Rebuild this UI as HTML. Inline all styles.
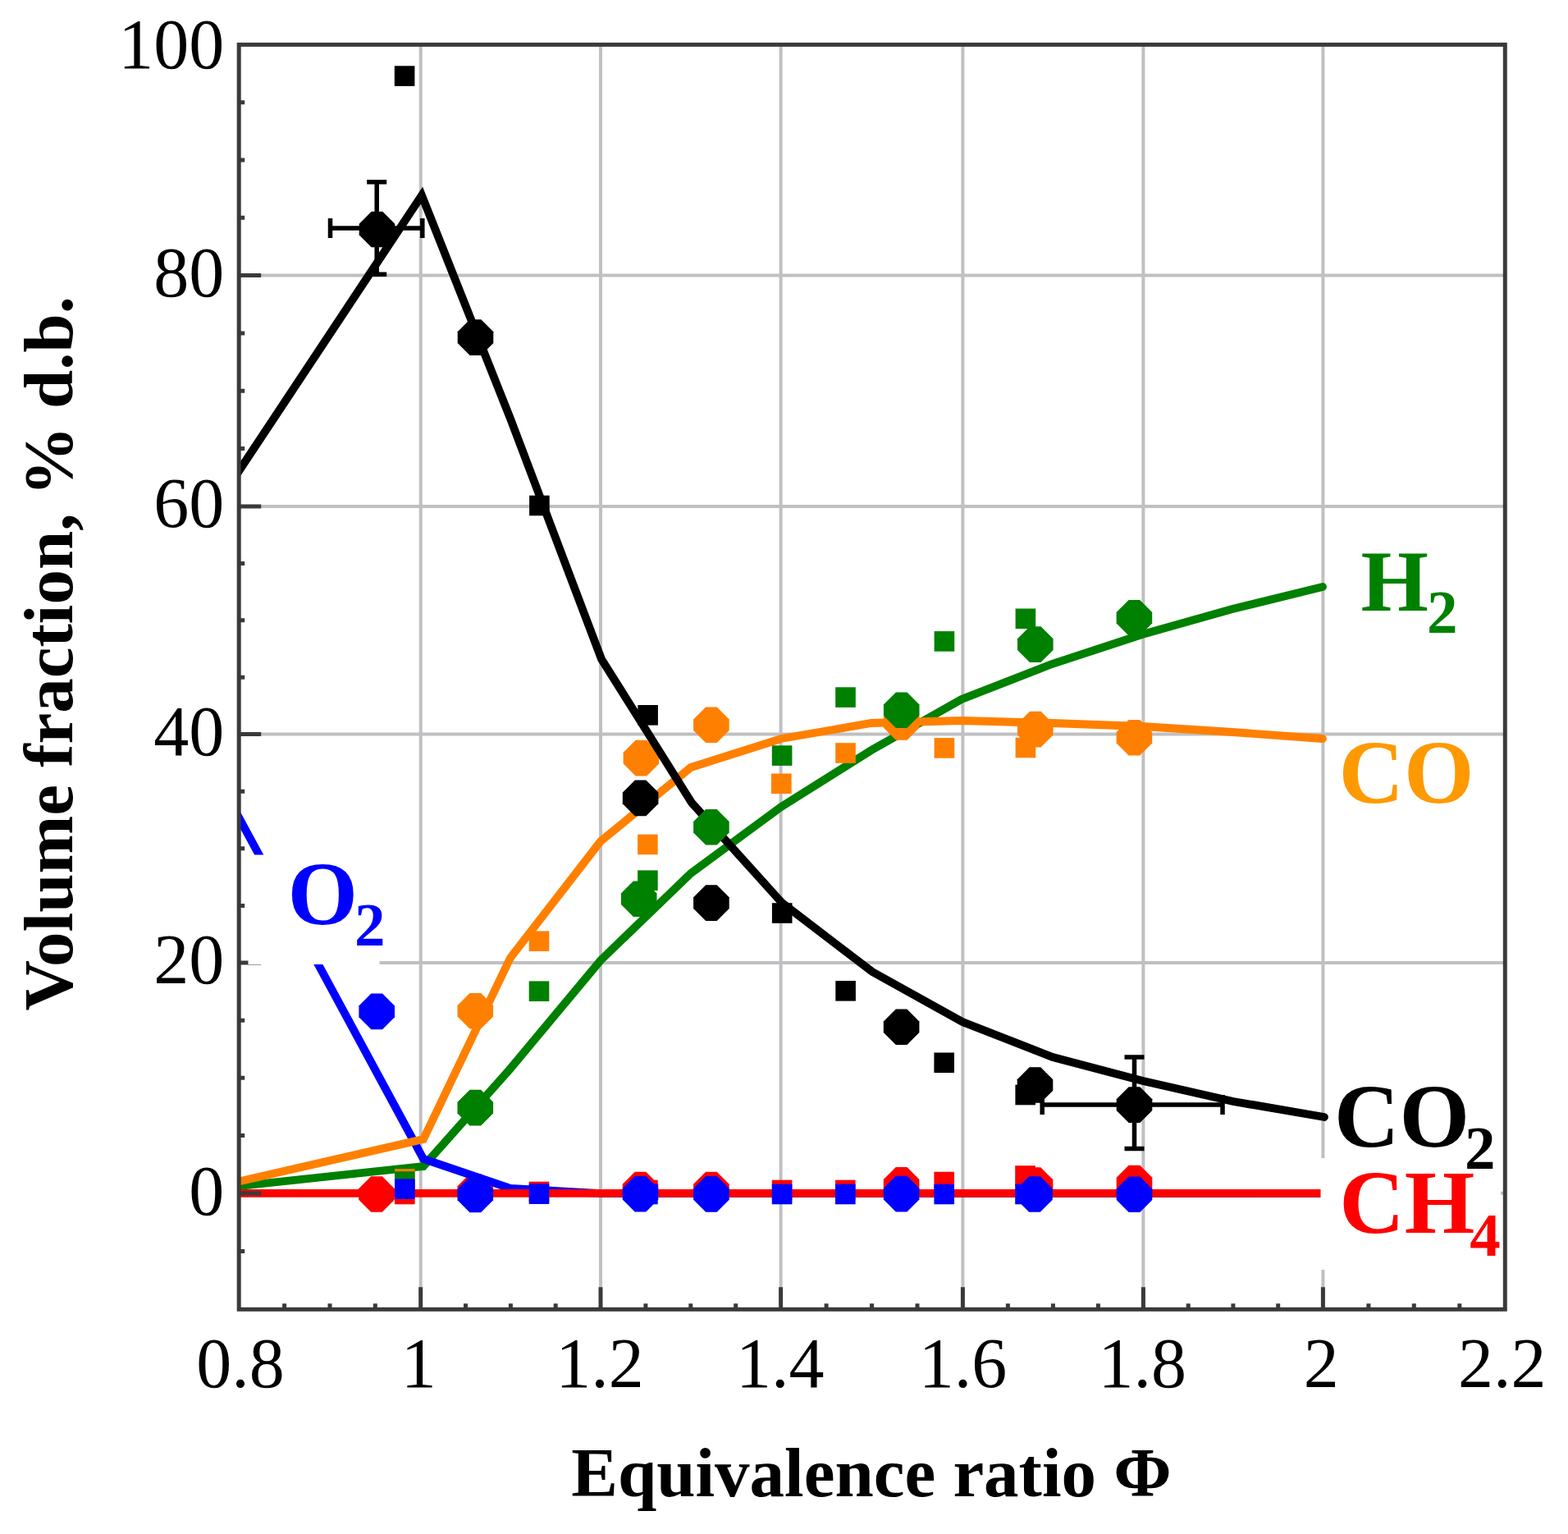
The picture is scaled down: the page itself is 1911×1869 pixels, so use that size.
<!DOCTYPE html>
<html><head><meta charset="utf-8"><title>Volume fraction vs equivalence ratio</title>
<style>html,body{margin:0;padding:0;background:#fff;}svg{display:block;}</style></head>
<body>
<svg xmlns="http://www.w3.org/2000/svg" width="1911" height="1869" viewBox="0 0 1911 1869">
<defs><clipPath id="pa"><rect x="291.2" y="54.4" width="1543.1" height="1540.9"/></clipPath></defs>
<rect width="1911" height="1869" fill="#fff"/>
<path d="M512.7,54.4 V1595.3 M732.0,54.4 V1595.3 M951.6,54.4 V1595.3 M1173.4,54.4 V1595.3 M1393.4,54.4 V1595.3 M1612.4,54.4 V1595.3 M291.2,335.6 H1834.3 M291.2,617.0 H1834.3 M291.2,894.6 H1834.3 M291.2,1173.0 H1834.3 M291.2,1453.7 H1834.3" stroke="#c0c0c3" stroke-width="4" fill="none"/>
<g clip-path="url(#pa)">
<polygon points="452.2,1433.2 465.8,1433.2 480.8,1448.2 480.8,1461.8 465.8,1476.8 452.2,1476.8 437.2,1461.8 437.2,1448.2" fill="#ff0000"/>
<polygon points="572.5,1430.2 586.1,1430.2 601.1,1445.2 601.1,1458.8 586.1,1473.8 572.5,1473.8 557.5,1458.8 557.5,1445.2" fill="#ff0000"/>
<polygon points="773.7,1427.8 787.3,1427.8 802.3,1442.8 802.3,1456.4 787.3,1471.4 773.7,1471.4 758.7,1456.4 758.7,1442.8" fill="#ff0000"/>
<polygon points="860.1,1427.8 873.7,1427.8 888.7,1442.8 888.7,1456.4 873.7,1471.4 860.1,1471.4 845.1,1456.4 845.1,1442.8" fill="#ff0000"/>
<polygon points="1091.8,1421.9 1105.4,1421.9 1120.4,1436.9 1120.4,1450.5 1105.4,1465.5 1091.8,1465.5 1076.8,1450.5 1076.8,1436.9" fill="#ff0000"/>
<polygon points="1254.7,1422.2 1268.3,1422.2 1283.3,1437.2 1283.3,1450.8 1268.3,1465.8 1254.7,1465.8 1239.7,1450.8 1239.7,1437.2" fill="#ff0000"/>
<polygon points="1375.7,1419.7 1389.3,1419.7 1404.3,1434.7 1404.3,1448.3 1389.3,1463.3 1375.7,1463.3 1360.7,1448.3 1360.7,1434.7" fill="#ff0000"/>
<rect x="481.0" y="1442.7" width="24.6" height="24.6" fill="#ff0000"/>
<rect x="644.7" y="1439.7" width="24.6" height="24.6" fill="#ff0000"/>
<rect x="777.1" y="1437.7" width="24.6" height="24.6" fill="#ff0000"/>
<rect x="940.8" y="1437.7" width="24.6" height="24.6" fill="#ff0000"/>
<rect x="1018.0" y="1437.7" width="24.6" height="24.6" fill="#ff0000"/>
<rect x="1138.4" y="1427.7" width="24.6" height="24.6" fill="#ff0000"/>
<rect x="1237.2" y="1420.2" width="24.6" height="24.6" fill="#ff0000"/>
<path d="M250.0,1449.5 L516.0,1421.0 L622.0,1302.0 L732.0,1170.0 L842.0,1064.0 L952.0,983.0 L1062.0,914.0 L1172.0,852.0 L1282.0,809.0 L1392.0,773.0 L1502.0,742.0 L1612.0,715.0" fill="none" stroke="#008000" stroke-width="9.8" stroke-linejoin="miter" stroke-linecap="round"/>
<path d="M250.0,920.0 L516.0,1412.0 L622.0,1448.0 L732.0,1454.2 L1612.4,1454.2" fill="none" stroke="#0000ff" stroke-width="9.8" stroke-linejoin="miter" stroke-linecap="round"/>
<path d="M250.0,1453.8 L1612.4,1453.8" fill="none" stroke="#ff0000" stroke-width="9.8" stroke-linejoin="miter" stroke-linecap="round"/>
<path d="M250.0,1449.0 L516.0,1388.0 L622.0,1167.0 L732.0,1025.0 L842.0,935.0 L952.0,900.0 L1062.0,881.0 L1172.0,878.0 L1282.0,881.0 L1392.0,885.0 L1502.0,892.0 L1612.0,900.0" fill="none" stroke="#ff8000" stroke-width="9.8" stroke-linejoin="miter" stroke-linecap="round"/>
<polygon points="572.5,1210.0 586.1,1210.0 601.1,1225.0 601.1,1238.6 586.1,1253.6 572.5,1253.6 557.5,1238.6 557.5,1225.0" fill="#ff8000"/>
<polygon points="774.6,901.8 788.2,901.8 803.2,916.8 803.2,930.4 788.2,945.4 774.6,945.4 759.6,930.4 759.6,916.8" fill="#ff8000"/>
<polygon points="860.1,861.5 873.7,861.5 888.7,876.5 888.7,890.1 873.7,905.1 860.1,905.1 845.1,890.1 845.1,876.5" fill="#ff8000"/>
<polygon points="1091.9,858.2 1105.5,858.2 1120.5,873.2 1120.5,886.8 1105.5,901.8 1091.9,901.8 1076.9,886.8 1076.9,873.2" fill="#ff8000"/>
<polygon points="1255.0,866.8 1268.6,866.8 1283.6,881.8 1283.6,895.4 1268.6,910.4 1255.0,910.4 1240.0,895.4 1240.0,881.8" fill="#ff8000"/>
<polygon points="1375.6,877.0 1389.2,877.0 1404.2,892.0 1404.2,905.6 1389.2,920.6 1375.6,920.6 1360.6,905.6 1360.6,892.0" fill="#ff8000"/>
<rect x="481.0" y="1424.2" width="24.6" height="24.6" fill="#ff8000"/>
<rect x="644.7" y="1134.4" width="24.6" height="24.6" fill="#ff8000"/>
<rect x="777.1" y="1016.6" width="24.6" height="24.6" fill="#ff8000"/>
<rect x="940.0" y="942.5" width="24.6" height="24.6" fill="#ff8000"/>
<rect x="1018.2" y="905.2" width="24.6" height="24.6" fill="#ff8000"/>
<rect x="1138.6" y="899.1" width="24.6" height="24.6" fill="#ff8000"/>
<rect x="1237.6" y="898.7" width="24.6" height="24.6" fill="#ff8000"/>
<path d="M250.0,636.0 L514.0,238.0 L622.0,510.0 L733.0,803.0 L843.0,978.0 L953.0,1100.0 L1063.0,1184.0 L1173.0,1245.0 L1283.0,1288.0 L1393.0,1317.0 L1503.0,1342.0 L1614.0,1361.0" fill="none" stroke="#000000" stroke-width="9.8" stroke-linejoin="miter" stroke-linecap="round"/>
<polygon points="452.7,257.7 466.3,257.7 481.3,272.7 481.3,286.3 466.3,301.3 452.7,301.3 437.7,286.3 437.7,272.7" fill="#000000"/>
<polygon points="572.7,389.3 586.3,389.3 601.3,404.3 601.3,417.9 586.3,432.9 572.7,432.9 557.7,417.9 557.7,404.3" fill="#000000"/>
<polygon points="773.8,950.6 787.4,950.6 802.4,965.6 802.4,979.2 787.4,994.2 773.8,994.2 758.8,979.2 758.8,965.6" fill="#000000"/>
<polygon points="860.1,1078.3 873.7,1078.3 888.7,1093.3 888.7,1106.9 873.7,1121.9 860.1,1121.9 845.1,1106.9 845.1,1093.3" fill="#000000"/>
<polygon points="1091.8,1229.4 1105.4,1229.4 1120.4,1244.4 1120.4,1258.0 1105.4,1273.0 1091.8,1273.0 1076.8,1258.0 1076.8,1244.4" fill="#000000"/>
<polygon points="1254.7,1300.2 1268.3,1300.2 1283.3,1315.2 1283.3,1328.8 1268.3,1343.8 1254.7,1343.8 1239.7,1328.8 1239.7,1315.2" fill="#000000"/>
<polygon points="1375.7,1324.3 1389.3,1324.3 1404.3,1339.3 1404.3,1352.9 1389.3,1367.9 1375.7,1367.9 1360.7,1352.9 1360.7,1339.3" fill="#000000"/>
<rect x="480.8" y="80.3" width="24.6" height="24.6" fill="#000000"/>
<rect x="645.1" y="603.7" width="24.6" height="24.6" fill="#000000"/>
<rect x="777.3" y="859.0" width="24.6" height="24.6" fill="#000000"/>
<rect x="940.9" y="1100.2" width="24.6" height="24.6" fill="#000000"/>
<rect x="1018.3" y="1195.0" width="24.6" height="24.6" fill="#000000"/>
<rect x="1138.4" y="1282.5" width="24.6" height="24.6" fill="#000000"/>
<rect x="1237.4" y="1321.7" width="24.6" height="24.6" fill="#000000"/>
<path d="M402.5,278.0 H514.8 M459.2,221.8 V334.2 M402.5,266.0 V290.0 M514.8,266.0 V290.0 M447.2,221.8 H471.2 M447.2,334.2 H471.2 M1270.2,1346.1 H1490.0 M1382.5,1288.0 V1399.5 M1270.2,1334.1 V1358.1 M1490.0,1334.1 V1358.1 M1370.5,1288.0 H1394.5 M1370.5,1399.5 H1394.5" stroke="#000" stroke-width="5.5" fill="none"/>
<polygon points="572.5,1327.8 586.1,1327.8 601.1,1342.8 601.1,1356.4 586.1,1371.4 572.5,1371.4 557.5,1356.4 557.5,1342.8" fill="#008000"/>
<polygon points="771.9,1073.4 785.5,1073.4 800.5,1088.4 800.5,1102.0 785.5,1117.0 771.9,1117.0 756.9,1102.0 756.9,1088.4" fill="#008000"/>
<polygon points="860.1,985.9 873.7,985.9 888.7,1000.9 888.7,1014.5 873.7,1029.5 860.1,1029.5 845.1,1014.5 845.1,1000.9" fill="#008000"/>
<polygon points="1091.9,843.5 1105.5,843.5 1120.5,858.5 1120.5,872.1 1105.5,887.1 1091.9,887.1 1076.9,872.1 1076.9,858.5" fill="#008000"/>
<polygon points="1255.0,763.3 1268.6,763.3 1283.6,778.3 1283.6,791.9 1268.6,806.9 1255.0,806.9 1240.0,791.9 1240.0,778.3" fill="#008000"/>
<polygon points="1375.6,730.9 1389.2,730.9 1404.2,745.9 1404.2,759.5 1389.2,774.5 1375.6,774.5 1360.6,759.5 1360.6,745.9" fill="#008000"/>
<rect x="481.0" y="1427.2" width="24.6" height="24.6" fill="#008000"/>
<rect x="644.7" y="1195.4" width="24.6" height="24.6" fill="#008000"/>
<rect x="777.1" y="1060.4" width="24.6" height="24.6" fill="#008000"/>
<rect x="940.8" y="908.3" width="24.6" height="24.6" fill="#008000"/>
<rect x="1018.2" y="837.3" width="24.6" height="24.6" fill="#008000"/>
<rect x="1138.6" y="769.1" width="24.6" height="24.6" fill="#008000"/>
<rect x="1237.6" y="741.5" width="24.6" height="24.6" fill="#008000"/>
<polygon points="452.4,1210.6 466.0,1210.6 481.0,1225.6 481.0,1239.2 466.0,1254.2 452.4,1254.2 437.4,1239.2 437.4,1225.6" fill="#0000ff"/>
<polygon points="572.5,1433.7 586.1,1433.7 601.1,1448.7 601.1,1462.3 586.1,1477.3 572.5,1477.3 557.5,1462.3 557.5,1448.7" fill="#0000ff"/>
<polygon points="773.7,1432.9 787.3,1432.9 802.3,1447.9 802.3,1461.5 787.3,1476.5 773.7,1476.5 758.7,1461.5 758.7,1447.9" fill="#0000ff"/>
<polygon points="860.1,1433.1 873.7,1433.1 888.7,1448.1 888.7,1461.7 873.7,1476.7 860.1,1476.7 845.1,1461.7 845.1,1448.1" fill="#0000ff"/>
<polygon points="1091.8,1432.8 1105.4,1432.8 1120.4,1447.8 1120.4,1461.4 1105.4,1476.4 1091.8,1476.4 1076.8,1461.4 1076.8,1447.8" fill="#0000ff"/>
<polygon points="1254.2,1433.2 1267.8,1433.2 1282.8,1448.2 1282.8,1461.8 1267.8,1476.8 1254.2,1476.8 1239.2,1461.8 1239.2,1448.2" fill="#0000ff"/>
<polygon points="1375.7,1433.4 1389.3,1433.4 1404.3,1448.4 1404.3,1462.0 1389.3,1477.0 1375.7,1477.0 1360.7,1462.0 1360.7,1448.4" fill="#0000ff"/>
<rect x="481.0" y="1436.4" width="24.6" height="24.6" fill="#0000ff"/>
<rect x="644.7" y="1442.4" width="24.6" height="24.6" fill="#0000ff"/>
<rect x="777.1" y="1442.7" width="24.6" height="24.6" fill="#0000ff"/>
<rect x="940.8" y="1442.7" width="24.6" height="24.6" fill="#0000ff"/>
<rect x="1018.0" y="1442.7" width="24.6" height="24.6" fill="#0000ff"/>
<rect x="1138.4" y="1442.7" width="24.6" height="24.6" fill="#0000ff"/>
<rect x="1237.2" y="1442.7" width="24.6" height="24.6" fill="#0000ff"/>
</g>
<path d="M512.7,1595.3 v-27 M732.0,1595.3 v-27 M951.6,1595.3 v-27 M1173.4,1595.3 v-27 M1393.4,1595.3 v-27 M1612.4,1595.3 v-27 M291.2,335.6 h27 M291.2,617.0 h27 M291.2,894.6 h27 M291.2,1173.0 h27 M291.2,1453.7 h27 M346.6,1595.3 v-7 M402.0,1595.3 v-7 M457.3,1595.3 v-7 M567.5,1595.3 v-7 M622.4,1595.3 v-7 M677.2,1595.3 v-7 M786.9,1595.3 v-7 M841.8,1595.3 v-7 M896.7,1595.3 v-7 M1007.1,1595.3 v-7 M1062.5,1595.3 v-7 M1118.0,1595.3 v-7 M1228.4,1595.3 v-7 M1283.4,1595.3 v-7 M1338.4,1595.3 v-7 M1448.2,1595.3 v-7 M1502.9,1595.3 v-7 M1557.7,1595.3 v-7 M1667.9,1595.3 v-7 M1723.3,1595.3 v-7 M1778.8,1595.3 v-7 M291.2,1524.5 h7 M291.2,1383.5 h7 M291.2,1313.3 h7 M291.2,1243.2 h7 M291.2,1103.4 h7 M291.2,1033.8 h7 M291.2,964.2 h7 M291.2,825.2 h7 M291.2,755.8 h7 M291.2,686.4 h7 M291.2,546.6 h7 M291.2,476.3 h7 M291.2,406.0 h7 M291.2,265.3 h7 M291.2,195.0 h7 M291.2,124.7 h7" stroke="#3a3a3a" stroke-width="5" fill="none"/>
<rect x="291.2" y="54.4" width="1543.1" height="1540.9" fill="none" stroke="#3a3a3a" stroke-width="5"/>
<rect x="302.5" y="1041.5" width="160" height="133.5" fill="#fff"/>
<rect x="1609.5" y="1411" width="219.5" height="136" fill="#fff"/>
<g font-family="Liberation Serif, serif" font-size="86" fill="#000">
<text x="273.3" y="83.0" text-anchor="end">100</text>
<text x="273.3" y="361.0" text-anchor="end">80</text>
<text x="273.3" y="641.9" text-anchor="end">60</text>
<text x="273.3" y="920.2" text-anchor="end">40</text>
<text x="273.3" y="1198.1" text-anchor="end">20</text>
<text x="273.3" y="1479.5" text-anchor="end">0</text>
<text x="292.9" y="1690.2" text-anchor="middle">0.8</text>
<text x="510.3" y="1690.2" text-anchor="middle">1</text>
<text x="730.9" y="1690.2" text-anchor="middle">1.2</text>
<text x="950.7" y="1690.2" text-anchor="middle">1.4</text>
<text x="1173.4" y="1690.2" text-anchor="middle">1.6</text>
<text x="1392.3" y="1690.2" text-anchor="middle">1.8</text>
<text x="1610.2" y="1690.2" text-anchor="middle">2</text>
<text x="1830.8" y="1690.2" text-anchor="middle">2.2</text>
</g>
<g font-family="Liberation Serif, serif" font-weight="bold" font-size="85" fill="#000">
<text x="1062" y="1823.3" text-anchor="middle">Equivalence ratio Φ</text>
<text transform="translate(88.3,796.3) rotate(-90)" text-anchor="middle">Volume fraction, % d.b.</text>
</g>
<text font-family="Liberation Serif, serif" font-weight="bold" fill="#008000"><tspan x="1658.6" y="744.3" font-size="106">H</tspan><tspan x="1739.0" y="771.0" font-size="75">2</tspan></text>
<text font-family="Liberation Serif, serif" font-weight="bold" fill="#ff9900"><tspan x="1631.5" y="978.4" font-size="110">CO</tspan></text>
<text font-family="Liberation Serif, serif" font-weight="bold" fill="#000"><tspan x="1626.0" y="1396.6" font-size="110">CO</tspan><tspan x="1785.0" y="1423.5" font-size="75">2</tspan></text>
<text font-family="Liberation Serif, serif" font-weight="bold" fill="#ff0000"><tspan x="1632.2" y="1502.3" font-size="110">CH</tspan><tspan x="1791.2" y="1529.8" font-size="75">4</tspan></text>
<text font-family="Liberation Serif, serif" font-weight="bold" fill="#0000ff"><tspan x="350.5" y="1126.4" font-size="110">O</tspan><tspan x="432.0" y="1152.3" font-size="75">2</tspan></text>
</svg>
</body></html>
